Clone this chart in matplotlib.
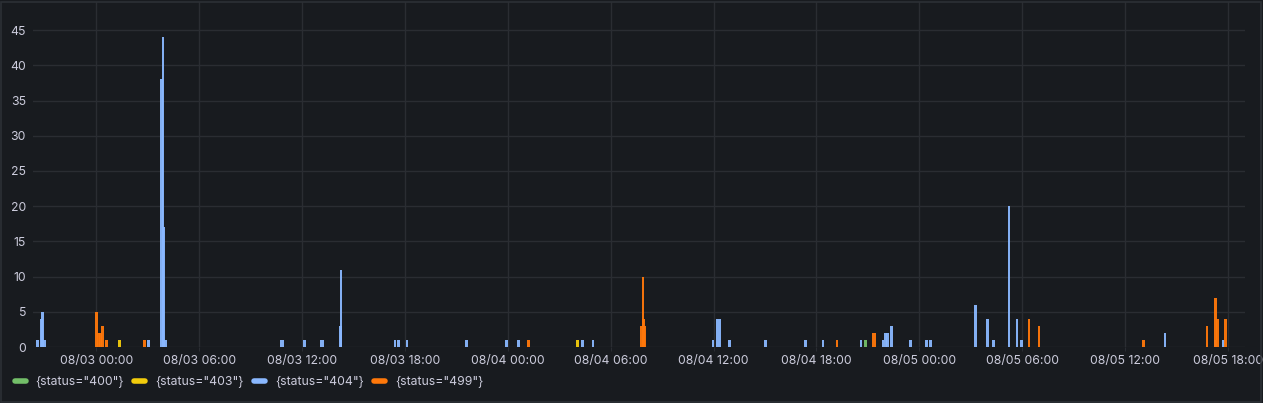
import matplotlib.pyplot as plt
import matplotlib.dates as mdates
from matplotlib.lines import Line2D
from matplotlib.patches import Rectangle
from datetime import datetime, timedelta

plt.rcParams['font.family'] = ['Inter', 'DejaVu Sans']

# timestamps (MM-DD HH:MM) and counts per status series
s400_t = ["08-04 20:53"]
s400_v = [1]

s403_t = ["08-03 01:21", "08-04 04:05"]
s403_v = [1, 1]

s404_t = ["08-02 20:35", "08-02 20:49", "08-02 20:52", "08-02 20:57",
          "08-03 03:03", "08-03 03:49", "08-03 03:53", "08-03 03:56", "08-03 04:03",
          "08-03 10:46", "08-03 10:53", "08-03 12:07", "08-03 13:06", "08-03 13:13",
          "08-03 14:13", "08-03 14:16", "08-03 17:25", "08-03 17:36", "08-03 18:07",
          "08-03 21:34", "08-03 23:54", "08-04 00:36", "08-04 04:20", "08-04 04:58",
          "08-04 11:58", "08-04 12:12", "08-04 12:22", "08-04 12:57", "08-04 15:03",
          "08-04 17:23", "08-04 18:23", "08-04 20:36", "08-04 21:53", "08-04 22:03",
          "08-04 22:08", "08-04 22:24", "08-04 23:30", "08-05 00:26", "08-05 00:40",
          "08-05 03:18", "08-05 04:00", "08-05 04:21", "08-05 05:14", "08-05 05:42",
          "08-05 05:59", "08-05 14:20", "08-05 17:15", "08-05 17:46"]
s404_v = [1, 4, 5, 1,
          1, 38, 44, 17, 1,
          1, 1, 1, 1, 1,
          3, 11, 1, 1, 1,
          1, 1, 1, 1, 1,
          1, 4, 4, 1, 1,
          1, 1, 1, 1, 2,
          2, 3, 1, 1, 1,
          6, 4, 1, 20, 4,
          1, 2, 1, 1]

s499_t = ["08-03 00:01", "08-03 00:06", "08-03 00:13", "08-03 00:22", "08-03 00:34",
          "08-03 02:47", "08-04 01:13", "08-04 07:49", "08-04 07:53", "08-04 07:56",
          "08-04 08:00", "08-04 19:12", "08-04 21:18", "08-04 21:25", "08-05 06:24",
          "08-05 06:59", "08-05 13:06", "08-05 16:47", "08-05 17:18", "08-05 17:23",
          "08-05 17:53"]
s499_v = [5, 2, 2, 3, 1,
          1, 1, 3, 10, 4,
          3, 1, 2, 2, 4,
          3, 1, 3, 7, 4,
          4]

labels = ['{status="400"}', '{status="403"}', '{status="404"}', '{status="499"}']
colors = ['#73BF69', '#F2CC0C', '#8AB8FF', '#FF780A']


def to_dt(ts):
    return [datetime.strptime("2024-" + t, "%Y-%m-%d %H:%M") for t in ts]


bg = '#181b1f'
grid = '#2a2d32'
txt = '#ccccdc'

fig = plt.figure(figsize=(12.63, 4.03), dpi=100, facecolor=bg)
ax = fig.add_axes([33 / 1263, 56 / 403, 1212 / 1263, 345 / 403])
ax.set_facecolor(bg)

width = timedelta(minutes=10)
series = [(s400_t, s400_v), (s403_t, s403_v), (s404_t, s404_v), (s499_t, s499_v)]
for (t, v), c in zip(series, colors):
    ax.bar(to_dt(t), v, width=width, color=c, alpha=0.95, linewidth=0, zorder=3)

ax.set_xlim(datetime(2024, 8, 2, 20, 18), datetime(2024, 8, 5, 19, 0))
ax.set_ylim(0, 49)
ax.set_yticks(range(0, 50, 5))
ax.xaxis.set_major_locator(mdates.HourLocator(byhour=[0, 6, 12, 18]))
ax.xaxis.set_major_formatter(mdates.DateFormatter('%m/%d %H:%M'))

ax.grid(True, color=grid, linewidth=1, zorder=0)
for s in ax.spines.values():
    s.set_visible(False)
ax.tick_params(axis='x', colors=grid, labelcolor=txt, labelsize=8.8, length=3, pad=3)
ax.tick_params(axis='y', length=0, labelcolor=txt, labelsize=8.8, pad=5)

handles = [Line2D([0], [0], color=c, lw=4, solid_capstyle='round') for c in colors]
leg = fig.legend(handles, labels, loc='center left', bbox_to_anchor=(0.003, 0.052),
                 ncol=4, frameon=False, handlelength=0.9, handletextpad=0.8,
                 columnspacing=0.85, fontsize=8.8, labelcolor=txt)

fig.patches.append(Rectangle((1 / 1263, 1 / 403), 1260 / 1263, 400 / 403,
                             transform=fig.transFigure, fill=False,
                             edgecolor='#2c3035', linewidth=1.2))

fig.savefig('out.png', dpi=100, facecolor=bg)
